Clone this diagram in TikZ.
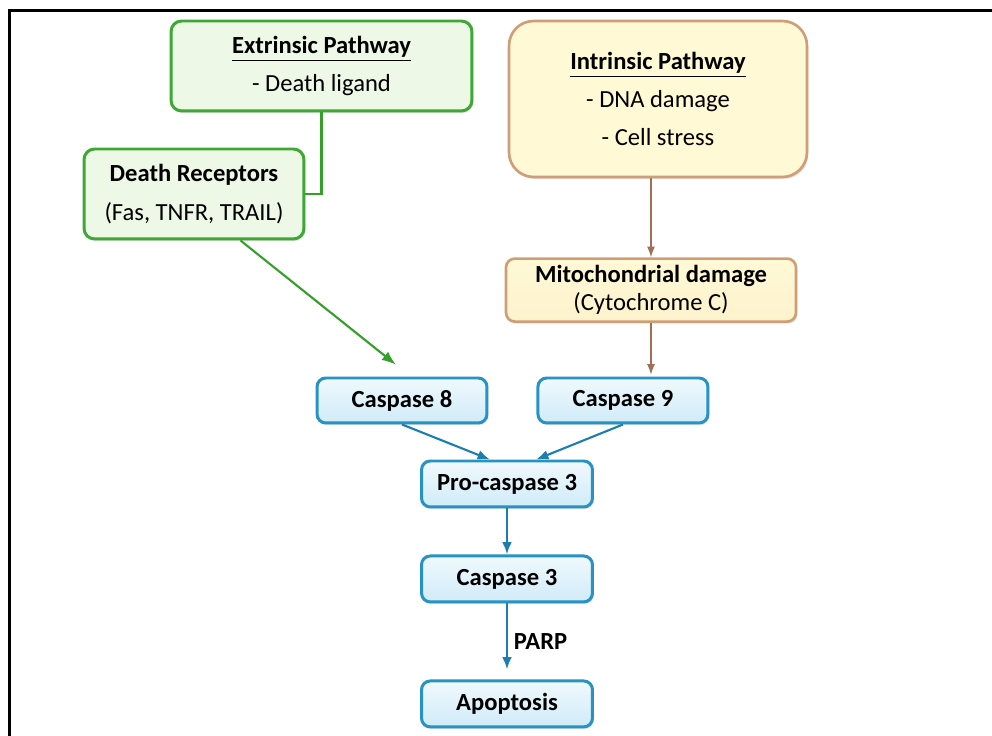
\documentclass[tikz,border=0pt]{standalone}
\usepackage{fontspec}
\setmainfont{Carlito}
\usepackage{xcolor}
\usetikzlibrary{arrows.meta,positioning,shadows}

\definecolor{gborder}{RGB}{62,168,52}
\definecolor{gfill}{RGB}{238,248,230}
\definecolor{garrowc}{RGB}{52,160,42}
\definecolor{yborder}{RGB}{208,158,118}
\definecolor{yfill}{RGB}{255,249,214}
\definecolor{mfill}{RGB}{253,242,204}
\definecolor{barrowc}{RGB}{160,112,84}
\definecolor{cborder}{RGB}{40,146,194}
\definecolor{ctop}{RGB}{240,249,253}
\definecolor{cbottom}{RGB}{208,235,248}
\definecolor{carrowc}{RGB}{28,126,176}

\begin{document}
\begin{tikzpicture}[
  x=0.02cm, y=-0.02cm,
  node distance=7mm and 9mm,
  box/.style={draw, align=center, inner sep=0pt, font=\fontsize{14}{21.5}\selectfont,
    drop shadow={opacity=0.22, shadow xshift=0.8pt, shadow yshift=-1.2pt}},
  gbox/.style={box, draw=gborder, line width=1.7pt, fill=gfill, rounded corners=6pt},
  ybox/.style={box, draw=yborder, line width=1.5pt, fill=yfill, rounded corners=14pt},
  mbox/.style={box, draw=yborder, line width=1.5pt, top color=yfill, bottom color=mfill,
    rounded corners=5pt, font=\fontsize{14}{16}\selectfont},
  cbox/.style={box, draw=cborder, line width=1.7pt, top color=ctop, bottom color=cbottom,
    rounded corners=5pt, font=\bfseries\fontsize{14}{17}\selectfont},
  gline/.style={draw=garrowc, line width=1.7pt},
  garrow/.style={-{Latex[length=8pt,width=6pt]}, draw=garrowc, line width=1.2pt},
  barrow/.style={-{Latex[length=6pt,width=4.5pt]}, draw=barrowc, line width=0.8pt},
  carrow/.style={-{Latex[length=7pt,width=5.5pt]}, draw=carrowc, line width=1.2pt}
]
\useasboundingbox (0,0) rectangle (992,736);
\draw[line width=1.8pt] (9.5,736) -- (9.5,10.5) -- (992,10.5);

\node[gbox, minimum width=6.02cm, minimum height=1.8cm] (ext) at (321.5,66)
  {\textbf{\underline{Extrinsic Pathway}}\\- Death ligand};
\node[gbox, minimum width=4.4cm, minimum height=1.8cm, font=\fontsize{14}{22}\selectfont] (dr) at (194,194)
  {\textbf{Death Receptors}\\(Fas, TNFR, TRAIL)};
\node[ybox, minimum width=5.96cm, minimum height=3.12cm] (intr) at (658,99)
  {\textbf{\underline{Intrinsic Pathway}}\\- DNA damage\\- Cell stress};
\node[mbox, minimum width=5.8cm, minimum height=1.26cm, below=1.58cm of intr, xshift=-0.14cm] (mito)
  {\textbf{Mitochondrial damage}\\(Cytochrome C)};
\node[cbox, minimum width=3.4cm, minimum height=0.9cm] (c8) at (402,400.5) {Caspase 8};
\node[cbox, minimum width=3.4cm, minimum height=0.9cm, right=0.96cm of c8] (c9) {Caspase 9};
\node[cbox, minimum width=3.42cm, minimum height=0.92cm] (pc3) at (507,484) {Pro-caspase 3};
\node[cbox, minimum width=3.42cm, minimum height=0.92cm, below=0.92cm of pc3] (c3) {Caspase 3};
\node[cbox, minimum width=3.42cm, minimum height=0.92cm, below=1.52cm of c3] (apo) {Apoptosis};

\draw[gline] (ext.south) |- (dr.east);
\draw[garrow, shorten >=0.38cm] (dr.-45) -- (c8.70);
\draw[barrow] (intr.south -| mito.north) -- (mito.north);
\draw[barrow, shorten >=1pt] (mito.south) -- (mito.south |- c9.north);
\draw[carrow] (c8.south) -- (pc3.125);
\draw[carrow] (c9.south) -- (pc3.40);
\draw[carrow] (pc3.south) -- (c3.north);
\draw[carrow, shorten >=0.2cm] (c3.south) -- node[right, font=\bfseries\fontsize{14}{17}\selectfont] {PARP} (apo.north);
\end{tikzpicture}
\end{document}
